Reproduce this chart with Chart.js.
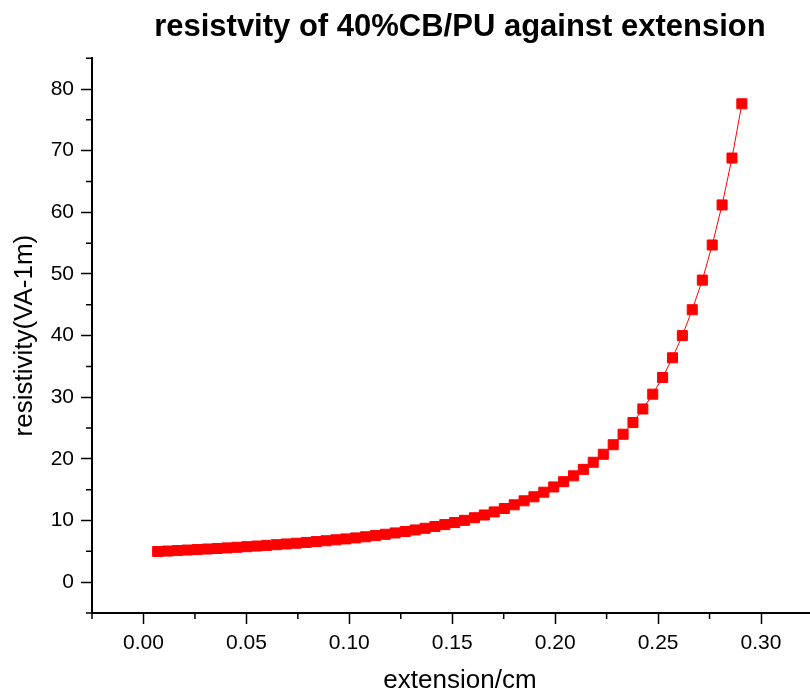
<!DOCTYPE html>
<html>
<head>
<meta charset="utf-8">
<title>resistivity vs extension</title>
<script src="https://cdn.jsdelivr.net/npm/chart.js@4/dist/chart.umd.min.js"></script>
<style>
    html, body {
        margin: 0;
        padding: 0;
        background: #ffffff;
        overflow: hidden;
    }
    #wrapper {
        width: 836px;
        height: 696px;
    }
</style>
</head>
<body>
<div id="wrapper">
    <canvas id="resistivity-chart" width="836" height="696"></canvas>
</div>
<script>
    // values
    const extension = [
        0.0069, 0.0117, 0.0165, 0.0213, 0.0261, 0.0310, 0.0358, 0.0406, 0.0454, 0.0502,
        0.0550, 0.0598, 0.0646, 0.0694, 0.0742, 0.0791, 0.0839, 0.0887, 0.0935, 0.0983,
        0.1031, 0.1079, 0.1127, 0.1175, 0.1223, 0.1272, 0.1320, 0.1368, 0.1416, 0.1464,
        0.1512, 0.1560, 0.1608, 0.1656, 0.1704, 0.1753, 0.1801, 0.1849, 0.1897, 0.1945,
        0.1993, 0.2041, 0.2089, 0.2137, 0.2185, 0.2234, 0.2282, 0.2330, 0.2378, 0.2426,
        0.2474, 0.2522, 0.2570, 0.2618, 0.2666, 0.2715, 0.2763, 0.2811, 0.2859, 0.2907
    ];
    const resistivity = [
        4.97, 5.05, 5.13, 5.21, 5.29, 5.38, 5.47, 5.56, 5.66, 5.76,
        5.86, 5.97, 6.08, 6.20, 6.32, 6.45, 6.58, 6.72, 6.87, 7.02,
        7.18, 7.36, 7.56, 7.77, 7.99, 8.22, 8.47, 8.74, 9.03, 9.34,
        9.67, 10.03, 10.45, 10.90, 11.40, 11.95, 12.55, 13.20, 13.85, 14.60,
        15.45, 16.30, 17.25, 18.30, 19.45, 20.75, 22.30, 24.00, 25.90, 28.10,
        30.50, 33.20, 36.40, 40.00, 44.20, 49.00, 54.70, 61.20, 68.80, 77.60
    ];

    const xTicks = [0, 0.05, 0.10, 0.15, 0.20, 0.25, 0.30];
    const xMinorTicks = [-0.025, 0.025, 0.075, 0.125, 0.175, 0.225, 0.275, 0.325];
    const yTicks = [0, 10, 20, 30, 40, 50, 60, 70, 80];
    const yMinorTicks = [-5, 5, 15, 25, 35, 45, 55, 65, 75, 85];

    const fontFamily = "'Liberation Sans', Arial, sans-serif";

    // short ticks between the labelled ones, like the original plot
    const minorTicks = {
        id: 'minorTicks',
        afterDraw(chart) {
            const ctx = chart.ctx;
            const xScale = chart.scales.x;
            const yScale = chart.scales.y;
            ctx.save();
            ctx.strokeStyle = '#000000';
            ctx.lineWidth = 1.5;
            ctx.beginPath();
            xMinorTicks.forEach(v => {
                const px = xScale.getPixelForValue(v);
                ctx.moveTo(px, xScale.top);
                ctx.lineTo(px, xScale.top + 6);
            });
            yMinorTicks.forEach(v => {
                const py = yScale.getPixelForValue(v);
                ctx.moveTo(yScale.right, py);
                ctx.lineTo(yScale.right - 6, py);
            });
            ctx.stroke();
            ctx.restore();
        }
    };

    const points = extension.map((x, i) => ({x: x, y: resistivity[i]}));

    const ctx = document.getElementById('resistivity-chart').getContext('2d');
    new Chart(ctx, {
        type: 'scatter',
        data: {
            datasets: [{
                label: 'resistivity',
                data: points,
                showLine: true,
                borderColor: '#ff0000',
                borderWidth: 1,
                pointStyle: 'rect',
                pointRadius: 7.1,
                pointBorderWidth: 1,
                pointBackgroundColor: '#ff0000',
                pointBorderColor: '#ff0000'
            }]
        },
        options: {
            responsive: false,
            animation: false,
            layout: {
                padding: {left: 0, right: 2, top: 0, bottom: 0}
            },
            plugins: {
                legend: {display: false},
                tooltip: {enabled: false},
                title: {
                    display: true,
                    text: 'resistvity of 40%CB/PU against extension',
                    color: '#000000',
                    fullSize: false,
                    font: {family: fontFamily, size: 31, weight: 'bold'},
                    padding: {top: 9, bottom: 12}
                }
            },
            scales: {
                x: {
                    type: 'linear',
                    min: -0.025,
                    max: 0.3325,
                    afterBuildTicks: (scale) => {
                        scale.ticks = xTicks.map(v => ({value: v}));
                    },
                    afterFit: (scale) => {
                        scale.height = 83;
                    },
                    border: {display: true, color: '#000000', width: 2},
                    grid: {
                        drawOnChartArea: false,
                        drawTicks: true,
                        tickLength: 11,
                        tickWidth: 1.5,
                        tickColor: '#000000'
                    },
                    ticks: {
                        color: '#000000',
                        padding: 7,
                        maxRotation: 0,
                        font: {family: fontFamily, size: 21},
                        callback: (value) => Number(value).toFixed(2)
                    },
                    title: {
                        display: true,
                        text: 'extension/cm',
                        color: '#000000',
                        font: {family: fontFamily, size: 26},
                        padding: {top: 0, bottom: 0}
                    }
                },
                y: {
                    type: 'linear',
                    min: -5,
                    max: 85,
                    afterBuildTicks: (scale) => {
                        scale.ticks = yTicks.map(v => ({value: v}));
                    },
                    afterFit: (scale) => {
                        scale.width = 92;
                    },
                    border: {display: true, color: '#000000', width: 2},
                    grid: {
                        drawOnChartArea: false,
                        drawTicks: true,
                        tickLength: 11,
                        tickWidth: 1.5,
                        tickColor: '#000000'
                    },
                    ticks: {
                        color: '#000000',
                        padding: 7,
                        font: {family: fontFamily, size: 21},
                        callback: (value) => String(value)
                    },
                    title: {
                        display: true,
                        text: 'resistivity(VA-1m)',
                        color: '#000000',
                        font: {family: fontFamily, size: 26},
                        padding: {top: 9, bottom: 0}
                    }
                }
            }
        },
        plugins: [minorTicks]
    });
</script>
</body>
</html>
